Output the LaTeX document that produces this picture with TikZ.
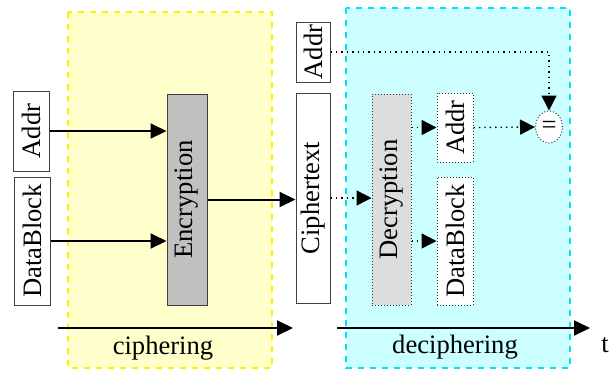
\documentclass[tikz,border=0pt]{standalone}
\usepackage{fontspec}
\setmainfont{Liberation Serif}
\usepackage{tikz}
\usetikzlibrary{arrows.meta,shapes}

\definecolor{cipherbg}{HTML}{FFFFCC}
\definecolor{cipherln}{HTML}{FFF000}
\definecolor{decipherbg}{HTML}{CCFFFF}
\definecolor{decipherln}{HTML}{00E5F5}
\definecolor{encgray}{HTML}{C0C0C0}
\definecolor{decgray}{HTML}{DCDCDC}

\begin{document}
\begin{tikzpicture}[x=0.5pt,y=-0.5pt,
    every node/.style={inner sep=0pt,font=\fontsize{13.3}{16}\selectfont},
    blk/.style={draw=black!75,line width=0.5pt,fill=white},
    dotblk/.style={draw=black!80,densely dotted,line width=0.5pt,fill=white},
    arr/.style={line width=1pt,-{Triangle[length=8pt,width=7.5pt]}},
    dotarr/.style={line width=0.7pt,dotted,-{Triangle[length=7.5pt,width=7.5pt]}}]
    \useasboundingbox (0,0) rectangle (611,371);
    % phases
    \draw [cipherln,fill=cipherbg,dashed,line width=0.6pt] (68,12) rectangle (272,368);
    \draw [decipherln,fill=decipherbg,dashed,line width=0.8pt] (346,8) rectangle (570,368);
    % ciphering side
    \node [blk,minimum width=18pt,minimum height=40pt] (addrL) at (31,131) {\rotatebox{90}{Addr}};
    \node [blk,minimum width=18pt,minimum height=64pt] (blockL) at (32,241) {\rotatebox{90}{DataBlock}};
    \node [blk,fill=encgray,minimum width=20pt,minimum height=105.5pt] (enc) at (187,199.5) {\rotatebox{90}{Encryption}};
    % stored values
    \node [blk,minimum width=17pt,minimum height=30pt] (addrT) at (313,52) {\rotatebox{90}{Addr}};
    \node [blk,minimum width=17pt,minimum height=105pt] (cipher) at (313,198) {\rotatebox{90}{Ciphertext}};
    % deciphering side
    \node [dotblk,fill=decgray,minimum width=19.5pt,minimum height=105.5pt] (dec) at (391.5,199.5) {\rotatebox{90}{Decryption}};
    \node [dotblk,minimum width=18pt,minimum height=34.5pt] (addrR) at (455,127.5) {\rotatebox{90}{Addr}};
    \node [dotblk,minimum width=18pt,minimum height=64pt] (blockR) at (455,241) {\rotatebox{90}{DataBlock}};
    \node [dotblk,ellipse,minimum width=13.5pt,minimum height=16pt] (eq) at (549,127) {=};
    % connectors
    \draw [arr] (addrL.east) -- (addrL.east -| enc.west);
    \draw [arr] (blockL.east) -- (blockL.east -| enc.west);
    \draw [arr] (enc.east) -- (enc.east -| cipher.west);
    \draw [dotarr] (cipher.east) -- (cipher.east -| dec.west);
    \draw [dotarr] (dec.east |- addrR.west) -- (addrR.west);
    \draw [dotarr] (dec.east |- blockR.west) -- (blockR.west);
    \draw [dotarr] (addrR.east) -- (eq.west);
    \draw [dotarr] (addrT.east) -| (eq.north);
    % time line
    \coordinate (t0) at (58,328);
    \coordinate (t1) at (293,328);
    \coordinate (t2) at (337,328);
    \coordinate (t3) at (590,328);
    \draw [arr] (t0) -- (t1);
    \draw [arr] (t2) -- (t3);
    \node (ciph) at (163,348) {ciphering};
    \node (deciph) at (455,347) {deciphering};
    \node (tlbl) at (605,345) {t};
\end{tikzpicture}
\end{document}
